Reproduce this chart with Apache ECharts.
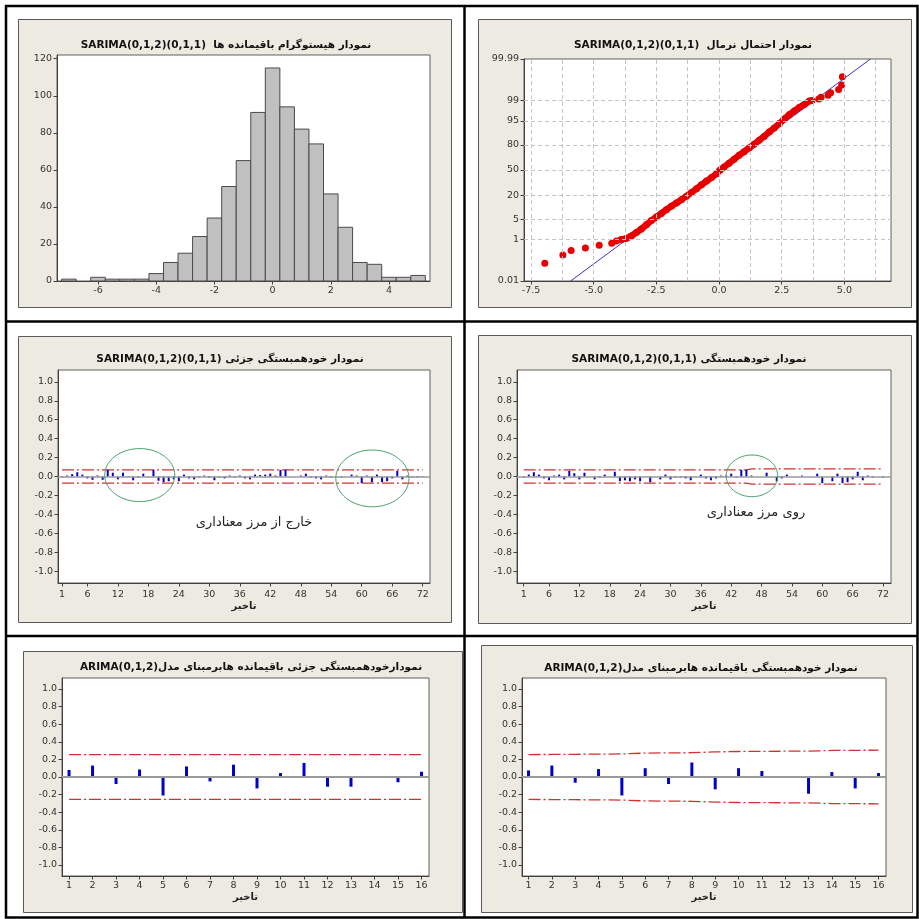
<!DOCTYPE html>
<html><head><meta charset="utf-8">
<script src="https://cdn.jsdelivr.net/npm/echarts@6/dist/echarts.min.js"></script>
<style>html,body{margin:0;padding:0;background:#fff}#c{width:919px;height:919px}</style>
</head><body><div id="c"></div>
<script>
// ---------------- DATA ----------------
// Histogram of residuals
const histCenters = [-7,-6.5,-6,-5.5,-5,-4.5,-4,-3.5,-3,-2.5,-2,-1.5,-1,-0.5,0,0.5,1,1.5,2,2.5,3,3.5,4,4.5,5];
const histCounts  = [1,0,2,1,1,1,4,10,15,24,34,51,65,91,115,94,82,74,47,29,10,9,2,2,3];
const histBinWidth = 0.5;
const histXTicks = [-6,-4,-2,0,2,4];
const histYTicks = [0,20,40,60,80,100,120];

// Normal probability plot: [residual, cumulative percent]
const probLowTail  = [[-6.95,0.09],[-6.23,0.22],[-5.90,0.35],[-5.33,0.45],[-4.78,0.58],[-4.28,0.70],[-4.09,0.86]];
const probDense = [[-3.90,1.0],[-3.69,1.1],[-3.5,1.35],[-3.3,1.8],[-3.1,2.4],[-2.9,3.3],[-2.7,4.5],[-2.5,5.8],[-2.3,7.3],
  [-2.1,9.2],[-1.9,11.3],[-1.7,13.5],[-1.5,16],[-1.3,19],[-1.1,22.5],[-0.9,26.5],[-0.7,31],[-0.5,35.5],[-0.3,40],
  [-0.1,45],[0.04,50],[0.2,54],[0.4,59],[0.6,64],[0.8,69],[1.0,73],[1.2,77],[1.4,80.5],[1.6,84],[1.8,87],[2.0,89.8],
  [2.2,92],[2.4,94],[2.6,95.6],[2.8,96.8],[3.0,97.6],[3.2,98.2],[3.4,98.6],[3.6,98.95],[3.70,99.0]];
const probHighTail = [[3.98,99.13],[4.07,99.26],[4.35,99.39],[4.45,99.52],[4.77,99.65],[4.89,99.78],[4.92,99.91]];
const probFitLine = [[-5.92,0.01],[6.04,99.99]];
const probXTicks = [-7.5,-5.0,-2.5,0.0,2.5,5.0];
const probXGrid = [-7.5,-6.25,-5,-3.75,-2.5,-1.25,0,1.25,2.5,3.75,5,6.25];
const probYTicks = [0.01,1,5,20,50,80,95,99,99.99];
const probYGrid = [1,5,20,50,80,95,99];

// SARIMA(0,1,2)(0,1,1) residual PACF / ACF, lags 1..72
const lags72 = [1,2,3,4,5,6,7,8,9,10,11,12,13,14,15,16,17,18,19,20,21,22,23,24,25,26,27,28,29,30,31,32,33,34,35,36,
  37,38,39,40,41,42,43,44,45,46,47,48,49,50,51,52,53,54,55,56,57,58,59,60,61,62,63,64,65,66,67,68,69,70,71,72];
const pacfSar = [
 -0.01, 0.01, 0.025, 0.045, 0.02, -0.02, -0.035, 0.01, -0.035, 0.07,
 0.04, -0.03, 0.04, 0.005, -0.04, -0.01, 0.03, 0.005, 0.07, -0.045,
 -0.06, -0.05, -0.03, -0.05, 0.02, -0.02, -0.03, -0.01, 0.01, -0.015,
 -0.04, -0.01, -0.02, 0.01, -0.01, 0.01, -0.02, -0.03, 0.02, 0.015,
 0.02, 0.03, 0.01, 0.07, 0.07, 0.0, 0.0, 0.01, 0.03, -0.01,
 -0.02, -0.03, 0.01, -0.01, 0.0, -0.01, 0.0, 0.02, 0.01, -0.07,
 0.01, -0.06, 0.02, -0.06, -0.05, -0.02, 0.06, -0.03, 0.01, -0.01,
 -0.01, 0.005];
const acfSar = [
 -0.01, 0.02, 0.045, 0.02, -0.02, -0.04, 0.01, 0.02, -0.03, 0.06,
 0.035, -0.03, 0.04, 0.0, -0.03, -0.01, 0.02, 0.0, 0.05, -0.05,
 -0.04, -0.05, -0.03, -0.05, 0.0, -0.06, 0.0, -0.03, 0.02, -0.03,
 -0.01, -0.01, -0.02, -0.04, 0.0, 0.02, -0.02, -0.04, -0.02, 0.01,
 0.01, 0.03, -0.01, 0.07, 0.07, 0.01, 0.0, 0.0, 0.04, 0.0,
 -0.05, -0.02, 0.02, 0.0, 0.0, 0.01, 0.0, 0.0, 0.03, -0.07,
 0.0, -0.05, 0.03, -0.07, -0.06, -0.03, 0.05, -0.04, 0.01, -0.01,
 0.0, -0.01];
const pacfSarLimit = [[1,0.0704],[72,0.0704]];
const acfSarLimit = [[1,0.0704],[45,0.0704],[46,0.081],[72,0.081]];
const lagTicks72 = [1,6,12,18,24,30,36,42,48,54,60,66,72];
// circled regions: [lag, value, half-width in lags, half-height in corr]
const pacfSarCircles = [[16.3,0.015,6.9,0.28],[62.1,-0.02,7.2,0.30]];
const acfSarCircles = [[46.1,0.007,5.1,0.22]];

// ARIMA(0,1,2) residual PACF / ACF, lags 1..16
const lags16 = [1,2,3,4,5,6,7,8,9,10,11,12,13,14,15,16];
const pacfAr = [0.08,0.13,-0.08,0.085,-0.21,0.12,-0.05,0.14,-0.13,0.045,0.16,-0.11,-0.11,0.0,-0.06,0.06];
const acfAr  = [0.075,0.13,-0.065,0.09,-0.21,0.10,-0.08,0.165,-0.14,0.10,0.068,0.005,-0.19,0.056,-0.13,0.045];
const pacfArLimit = [[1,0.254],[16,0.254]];
const acfArLimit = [0.255,0.256,0.258,0.26,0.262,0.272,0.274,0.276,0.285,0.29,0.292,0.293,0.293,0.302,0.303,0.305];
const lagTicks16 = [1,2,3,4,5,6,7,8,9,10,11,12,13,14,15,16];
const corrTicks = [-1.0,-0.8,-0.6,-0.4,-0.2,0.0,0.2,0.4,0.6,0.8,1.0];

const titles = [
  'SARIMA(0,1,2)(0,1,1)  نمودار هیستوگرام باقیمانده ها',
  'SARIMA(0,1,2)(0,1,1)  نمودار احتمال نرمال',
  'SARIMA(0,1,2)(0,1,1) نمودار خودهمبستگی جزئی',
  'SARIMA(0,1,2)(0,1,1) نمودار خودهمبستگی',
  'ARIMA(0,1,2)نمودارخودهمبستگی جزئی باقیمانده هابرمبنای مدل',
  'ARIMA(0,1,2)نمودار خودهمبستگی باقیمانده هابرمبنای مدل'
];
const lagName = 'تاخیر';
const note3 = 'خارج از مرز معناداری';
const note4 = 'روی مرز معناداری';

// ---------------- HELPERS ----------------
function probit(p){ // inverse standard normal CDF (Acklam)
  const a=[-3.969683028665376e+01,2.209460984245205e+02,-2.759285104469687e+02,1.383577518672690e+02,-3.066479806614716e+01,2.506628277459239e+00];
  const b=[-5.447609879822406e+01,1.615858368580409e+02,-1.556989798598866e+02,6.680131188771972e+01,-1.328068155288572e+01];
  const c=[-7.784894002430293e-03,-3.223964580411365e-01,-2.400758277161838e+00,-2.549732539343734e+00,4.374664141464968e+00,2.938163982698783e+00];
  const d=[7.784695709041462e-03,3.224671290700398e-01,2.445134137142996e+00,3.754408661907416e+00];
  const pl=0.02425, ph=1-pl;
  if(p<pl){const q=Math.sqrt(-2*Math.log(p));return (((((c[0]*q+c[1])*q+c[2])*q+c[3])*q+c[4])*q+c[5])/((((d[0]*q+d[1])*q+d[2])*q+d[3])*q+1);}
  if(p>ph){const q=Math.sqrt(-2*Math.log(1-p));return -(((((c[0]*q+c[1])*q+c[2])*q+c[3])*q+c[4])*q+c[5])/((((d[0]*q+d[1])*q+d[2])*q+d[3])*q+1);}
  const q=p-0.5, r=q*q;
  return (((((a[0]*r+a[1])*r+a[2])*r+a[3])*r+a[4])*r+a[5])*q/(((((b[0]*r+b[1])*r+b[2])*r+b[3])*r+b[4])*r+1);
}
const pz = p => probit(p/100);

const FONT = 'DejaVu Sans';
const BEIGE = '#EDEAE1';
const BLUE = '#0000C8';
const RED = '#D43030';
const GREEN = '#48A36C';
const LBL = {fontFamily: FONT, fontSize: 9.5, color: '#333'};
const DASHDOT = [12,3,2,3];

const grids = [
  {left:57, top:55, width:373, height:226},
  {left:524, top:59, width:367, height:222},
  {left:58, top:370, width:372, height:213},
  {left:517, top:370, width:374, height:213},
  {left:62, top:678, width:367, height:198},
  {left:522, top:678, width:364, height:198}
].map(g => Object.assign(g, {show:true, backgroundColor:'#fff', borderColor:'#606060', borderWidth:1, containLabel:false, outerBoundsMode:'none'}));

function axisBase(extra){
  return Object.assign({
    type:'value',
    axisLine:{show:true, onZero:false, lineStyle:{color:'#404040', width:1}},
    axisTick:{show:true, length:3.5, lineStyle:{color:'#404040'}},
    splitLine:{show:false},
    axisLabel:Object.assign({margin:5}, LBL)
  }, extra);
}
function xA(i, min, max, ticks, fmt, margin, name, gap){
  const a = axisBase({gridIndex:i, min, max});
  a.axisTick.customValues = ticks;
  a.axisLabel.customValues = ticks;
  if (fmt) a.axisLabel.formatter = fmt;
  if (margin != null) a.axisLabel.margin = margin;
  if (name){ a.name = name; a.nameLocation = 'middle'; a.nameGap = gap;
    a.nameTextStyle = {fontFamily:FONT, fontWeight:'bold', fontSize:10, color:'#222'}; }
  return a;
}
function yA(i, min, max, ticks, fmt){
  const a = axisBase({gridIndex:i, min, max});
  a.axisTick.customValues = ticks;
  a.axisLabel.customValues = ticks;
  if (fmt) a.axisLabel.formatter = fmt;
  return a;
}
const f1 = v => Number(v).toFixed(1);
const probFmt = v => { for (const p of probYTicks) if (Math.abs(pz(p)-v) < 1e-6) return String(p); return ''; };

const xAxis = [
  xA(0, -7.41, 5.41, histXTicks, null, 5),
  xA(1, -7.78, 6.86, probXTicks, f1, 5),
  xA(2, 0.21, 73.44, lagTicks72, null, 7, lagName, 18),
  xA(3, -0.33, 73.58, lagTicks72, null, 7, lagName, 18),
  xA(4, 0.70, 16.32, lagTicks16, null, 5, lagName, 16),
  xA(5, 0.72, 16.32, lagTicks16, null, 5, lagName, 16)
];
const yAxis = [
  yA(0, 0, 122, histYTicks),
  yA(1, pz(0.01), pz(99.99), probYTicks.map(pz), probFmt),
  yA(2, -1.125, 1.125, corrTicks, f1),
  yA(3, -1.125, 1.125, corrTicks, f1),
  yA(4, -1.125, 1.125, corrTicks, f1),
  yA(5, -1.125, 1.125, corrTicks, f1)
];

function zeroLine(w){
  return {silent:true, symbol:['none','none'], label:{show:false}, animation:false,
    lineStyle:{color:'#9A9A9A', width:w, type:'solid'}, data:[{yAxis:0}]};
}
function limitSeries(i, pts){
  const s = [];
  [1,-1].forEach(sign => s.push({type:'line', xAxisIndex:i, yAxisIndex:i, symbol:'none', silent:true, z:3,
    data: pts.map(p => [p[0], sign*p[1]]),
    lineStyle:{color:RED, width:1.3, type:DASHDOT}}));
  return s;
}
function barSeries(i, lags, vals, w){
  return {type:'bar', xAxisIndex:i, yAxisIndex:i, barWidth:w, silent:true, z:4,
    data: vals.map((v,k) => [lags[k], v]), itemStyle:{color:BLUE},
    markLine: zeroLine(w > 2 ? 2 : 1.5)};
}
function ellipseSeries(i, data){
  return {type:'custom', xAxisIndex:i, yAxisIndex:i, silent:true, z:5, data,
    renderItem:(params, api) => {
      const c = api.coord([api.value(0), api.value(1)]);
      const s = api.size([api.value(2), api.value(3)]);
      return {type:'ellipse', shape:{cx:c[0], cy:c[1], rx:s[0], ry:s[1]},
        style:{fill:'none', stroke:GREEN, lineWidth:1}};
    }};
}

const series = [];
// 1: histogram
series.push({type:'custom', xAxisIndex:0, yAxisIndex:0, silent:true,
  data: histCenters.map((c,k) => [c, histCounts[k]]),
  renderItem:(params, api) => {
    const c = api.value(0), n = api.value(1);
    if (!n) return null;
    const p0 = api.coord([c - histBinWidth/2, 0]);
    const p1 = api.coord([c + histBinWidth/2, n]);
    return {type:'rect', shape:{x:p0[0], y:p1[1], width:p1[0]-p0[0], height:p0[1]-p1[1]},
      style:{fill:'#C0C0C0', stroke:'#4A4A4A', lineWidth:1}};
  }});
// 2: probability plot
series.push({type:'line', xAxisIndex:1, yAxisIndex:1, symbol:'none', silent:true, z:2,
  data: probFitLine.map(p => [p[0], pz(p[1])]),
  lineStyle:{color:'#3434C8', width:1},
  markLine:{silent:true, symbol:['none','none'], label:{show:false},
    lineStyle:{color:'#C4C4C4', width:1, type:[4,3]},
    data: probXGrid.map(v => ({xAxis:v})).concat(probYGrid.map(p => ({yAxis:pz(p)})))}});
series.push({type:'line', xAxisIndex:1, yAxisIndex:1, symbol:'none', silent:true, z:3,
  data: probDense.map(p => [p[0], pz(p[1])]),
  lineStyle:{color:'#E80000', width:6.5, cap:'round', join:'round', opacity:1}});
series.push({type:'scatter', xAxisIndex:1, yAxisIndex:1, silent:true, z:4, symbolSize:7,
  data: probLowTail.concat(probDense, probHighTail).map(p => [p[0], pz(p[1])]),
  itemStyle:{color:'#E80000', opacity:1}});
// 3: PACF SARIMA
series.push(barSeries(2, lags72, pacfSar, 2));
series.push(...limitSeries(2, pacfSarLimit));
series.push(ellipseSeries(2, pacfSarCircles));
// 4: ACF SARIMA
series.push(barSeries(3, lags72, acfSar, 2));
series.push(...limitSeries(3, acfSarLimit));
series.push(ellipseSeries(3, acfSarCircles));
// 5: PACF ARIMA
series.push(barSeries(4, lags16, pacfAr, 3));
series.push(...limitSeries(4, pacfArLimit));
// 6: ACF ARIMA
series.push(barSeries(5, lags16, acfAr, 3));
series.push(...limitSeries(5, acfArLimit.map((v,k) => [lags16[k], v])));

// ---------------- DECORATION ----------------
const frames = [[18,19,433,288],[478,19,433,288],[18,336,433,286],[478,335,433,288],[23,651,439,261],[481,645,431,267]];
const titlePos = [[226,45],[693,45.5],[230,359],[689,359],[251,667],[701,668]];
const graphic = [];
frames.forEach(f => graphic.push({type:'rect', z:-10, silent:true,
  shape:{x:f[0]+0.5, y:f[1]+0.5, width:f[2], height:f[3]}, style:{fill:BEIGE, stroke:'#5A5A5A', lineWidth:1}}));
graphic.push({type:'rect', z:-5, silent:true, shape:{x:6, y:6, width:911.5, height:911.5}, style:{fill:'none', stroke:'#000', lineWidth:2.5}});
graphic.push({type:'line', z:-5, silent:true, shape:{x1:464.5, y1:6, x2:464.5, y2:917.5}, style:{stroke:'#000', lineWidth:2.5}});
graphic.push({type:'line', z:-5, silent:true, shape:{x1:6, y1:321.5, x2:917.5, y2:321.5}, style:{stroke:'#000', lineWidth:2.5}});
graphic.push({type:'line', z:-5, silent:true, shape:{x1:6, y1:636, x2:917.5, y2:636}, style:{stroke:'#000', lineWidth:2.5}});
titles.forEach((t,k) => graphic.push({type:'text', z:10, silent:true, x:titlePos[k][0], y:titlePos[k][1],
  style:{text:t, fill:'#111', font:'bold 10.5px "DejaVu Sans"', align:'center', verticalAlign:'middle', textAlign:'center', textVerticalAlign:'middle'}}));
graphic.push({type:'text', z:10, silent:true, x:254, y:523,
  style:{text:note3, fill:'#222', font:'13px "DejaVu Sans"', align:'center', verticalAlign:'middle', textAlign:'center', textVerticalAlign:'middle'}});
graphic.push({type:'text', z:10, silent:true, x:756, y:513,
  style:{text:note4, fill:'#222', font:'13px "DejaVu Sans"', align:'center', verticalAlign:'middle', textAlign:'center', textVerticalAlign:'middle'}});

const chart = echarts.init(document.getElementById('c'), null, {renderer:'canvas'});
chart.setOption({animation:false, backgroundColor:'#fff', grid:grids, xAxis, yAxis, series, graphic});
</script></body></html>
